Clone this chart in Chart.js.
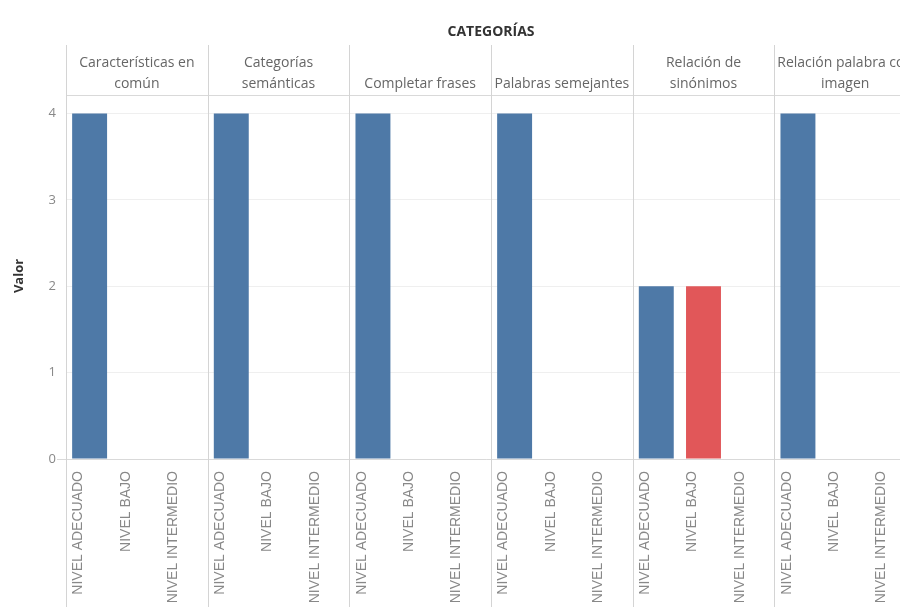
<!DOCTYPE html>
<html>
<head>
<meta charset="utf-8">
<script src="https://cdn.jsdelivr.net/npm/chart.js@4"></script>
<style>
  html, body { margin: 0; padding: 0; background: #fff; overflow: hidden; }
  #wrap { width: 916px; height: 607px; }
</style>
</head>
<body>
<div id="wrap"><canvas id="chart"></canvas></div>
<script>
// facet headers (already wrapped as in the picture)
const panelHeaders = [
    ['Características en', 'común'],
    ['Categorías', 'semánticas'],
    ['Completar frases'],
    ['Palabras semejantes'],
    ['Relación de', 'sinónimos'],
    ['Relación palabra con', 'imagen']
];
const niveles = ['NIVEL ADECUADO', 'NIVEL BAJO', 'NIVEL INTERMEDIO'];
const nivelColors = ['#4e79a7', '#e15759', '#f28e2b'];

// values per panel, one array per nivel
const adecuado   = [4, 4, 4, 4, 2, 4];
const bajo       = [null, null, null, null, 2, null];
const intermedio = [null, null, null, null, null, null];

const yTicks = [0, 1, 2, 3, 4];

// flatten into 18 categories (panel x nivel)
const labels = [], values = [], colors = [];
const series = [adecuado, bajo, intermedio];
panelHeaders.forEach((h, p) => {
    niveles.forEach((n, k) => {
        labels.push(n);
        values.push(series[k][p]);
        colors.push(nivelColors[k]);
    });
});

const FONT = '"Open Sans", "DejaVu Sans", sans-serif';

// headers, dividers, title and axis title
const facetPlugin = {
    id: 'facets',
    afterDraw(chart) {
        const ctx = chart.ctx;
        const x = chart.scales.x;
        const area = chart.chartArea;
        const step = x.getPixelForValue(1) - x.getPixelForValue(0);
        ctx.save();

        // horizontal lines: header bottom and axis line
        ctx.strokeStyle = '#d9d9d9';
        ctx.lineWidth = 1;
        ctx.beginPath();
        ctx.moveTo(area.left, 95.5);
        ctx.lineTo(area.right, 95.5);
        ctx.moveTo(57, Math.round(area.bottom) + 0.5);
        ctx.lineTo(area.right, Math.round(area.bottom) + 0.5);
        ctx.stroke();

        // vertical panel dividers
        ctx.strokeStyle = '#d4d4d4';
        for (let p = 0; p <= panelHeaders.length; p++) {
            const px = Math.round(x.getPixelForValue(p * 3) - step / 2) + 0.5;
            ctx.beginPath();
            ctx.moveTo(px, 45);
            ctx.lineTo(px, 607);
            ctx.stroke();
        }

        // panel headers, bottom aligned
        ctx.fillStyle = '#666';
        ctx.font = '14px ' + FONT;
        ctx.textAlign = 'center';
        ctx.textBaseline = 'middle';
        panelHeaders.forEach((lines, p) => {
            const cx = x.getPixelForValue(p * 3 + 1);
            const n = lines.length;
            lines.forEach((t, i) => {
                ctx.fillText(t, cx, 84 - (n - 1 - i) * 21);
            });
        });

        // title
        ctx.fillStyle = '#333';
        ctx.font = 'bold 14px ' + FONT;
        ctx.fillText('CATEGORÍAS', (area.left + area.right) / 2, 32);

        // y axis title
        ctx.translate(19, (area.top + area.bottom) / 2 - 2);
        ctx.rotate(-Math.PI / 2);
        ctx.fillStyle = '#333';
        ctx.font = 'bold 13px ' + FONT;
        ctx.fillText('Valor', 0, 0);
        ctx.restore();
    }
};

new Chart(document.getElementById('chart'), {
    type: 'bar',
    data: {
        labels: labels,
        datasets: [{
            data: values,
            backgroundColor: colors,
            borderWidth: 0,
            barPercentage: 0.74,
            categoryPercentage: 1
        }]
    },
    options: {
        responsive: true,
        maintainAspectRatio: false,
        animation: false,
        layout: { padding: { top: 97, left: 0, right: 0, bottom: 0 } },
        plugins: {
            legend: { display: false },
            tooltip: { enabled: false }
        },
        scales: {
            x: {
                grid: { display: false },
                border: { display: false },
                ticks: {
                    autoSkip: false,
                    maxRotation: 90,
                    minRotation: 90,
                    padding: 4,
                    labelOffset: -11,
                    color: '#888',
                    font: { family: '"Liberation Sans", Arial, sans-serif', size: 14 }
                },
                afterFit: s => { s.height = 148; }
            },
            y: {
                min: 0,
                max: 4.19,
                grid: { color: '#efefef', drawTicks: false },
                border: { display: false },
                ticks: {
                    stepSize: 1,
                    includeBounds: false,
                    padding: 10,
                    color: '#888',
                    font: { family: FONT, size: 13 },
                    callback: v => yTicks.includes(v) ? v : ''
                },
                afterFit: s => { s.width = 66; }
            }
        }
    },
    plugins: [facetPlugin]
});
</script>
</body>
</html>
